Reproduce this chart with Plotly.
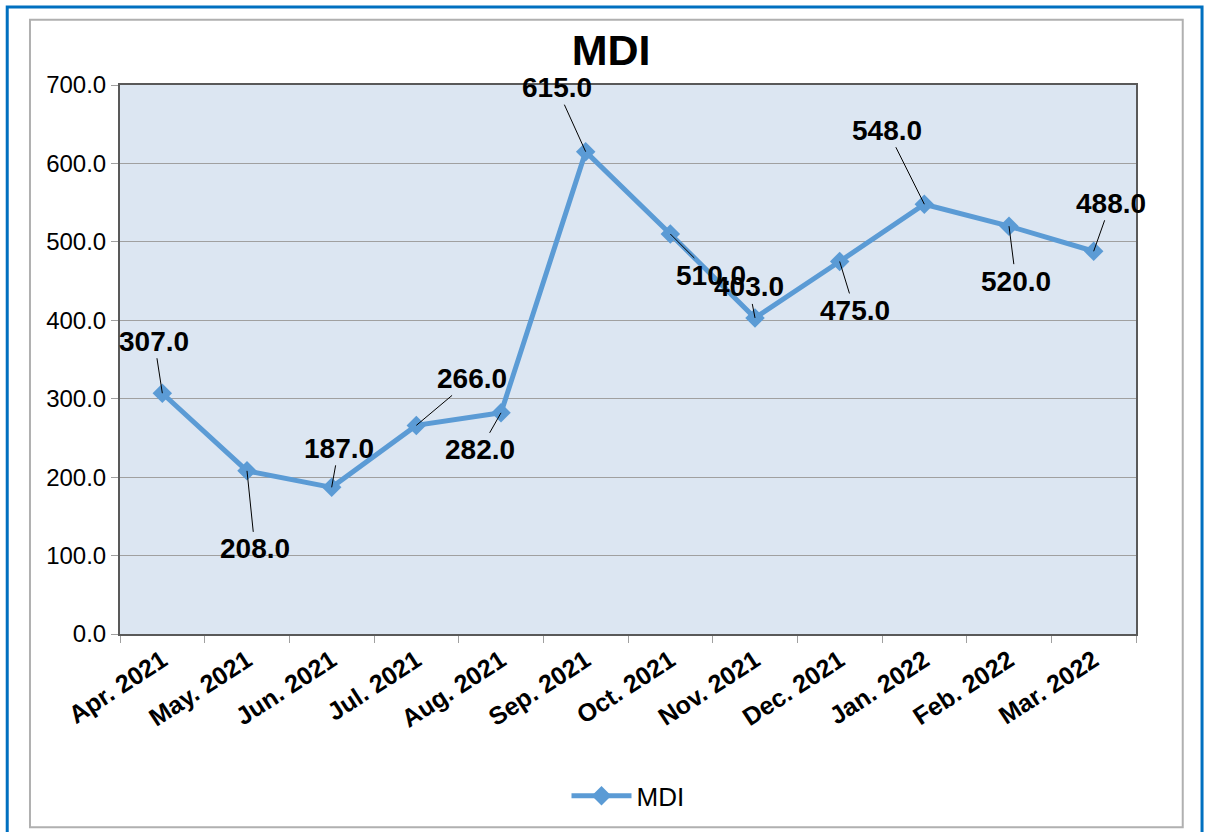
import plotly.graph_objects as go

months = ["Apr. 2021", "May. 2021", "Jun. 2021", "Jul. 2021", "Aug. 2021", "Sep. 2021",
          "Oct. 2021", "Nov. 2021", "Dec. 2021", "Jan. 2022", "Feb. 2022", "Mar. 2022"]
mdi = [307.0, 208.0, 187.0, 266.0, 282.0, 615.0, 510.0, 403.0, 475.0, 548.0, 520.0, 488.0]
# label offsets (pixels) from each point: (ax, ay)
label_offsets = [(-8, -52), (8, 78), (7, -39), (56, -47), (-21, 37), (-29, -64),
                 (41, 41), (-6, -31), (15, 49), (-37, -74), (7, 55), (17, -48)]
tick_vals = [0, 100, 200, 300, 400, 500, 600, 700]

FONT = "Liberation Sans, Arial, sans-serif"
LINE_COLOR = "#5B9BD5"

fig = go.Figure()
fig.add_trace(go.Scatter(
    x=months, y=mdi, mode="lines+markers", name="MDI",
    line=dict(color=LINE_COLOR, width=5),
    marker=dict(symbol="diamond", size=15, color=LINE_COLOR),
))

for m, v, (ax, ay) in zip(months, mdi, label_offsets):
    fig.add_annotation(
        x=m, y=v, text=f"<b>{v:.1f}</b>", showarrow=True, arrowhead=0,
        arrowwidth=1, arrowcolor="black", ax=ax, ay=ay, standoff=0,
        font=dict(family=FONT, size=28, color="black"),
    )

fig.update_layout(
    width=1210, height=832,
    margin=dict(l=120, r=74, t=85, b=192),
    paper_bgcolor="white",
    plot_bgcolor="#DCE6F2",
    title=dict(text="<b>MDI</b>", x=0.505, xanchor="center", y=0.94, yanchor="middle",
               font=dict(family=FONT, size=43, color="black")),
    showlegend=True,
    legend=dict(orientation="h", x=0.5, xanchor="center", y=-0.295, yanchor="middle",
                itemwidth=60,
                font=dict(family=FONT, size=26, color="black"), bgcolor="rgba(0,0,0,0)"),
    font=dict(family=FONT, color="black"),
)
fig.update_xaxes(
    type="category", range=[-0.5, len(months) - 0.5], autorange=False,
    tickangle=-33, tickfont=dict(family=FONT, size=25, color="black", weight="bold"),
    showline=True, linecolor="#595959", linewidth=2, mirror=True,
    ticks="outside", tickson="boundaries", ticklen=7, tickcolor="#A0A0A0",
    showgrid=False,
)
fig.update_yaxes(
    range=[0, 700], tickvals=tick_vals, tickformat=".1f",
    tickfont=dict(family=FONT, size=24, color="black"),
    showline=True, linecolor="#595959", linewidth=2, mirror=True,
    ticks="outside", ticklen=7, tickcolor="#A0A0A0",
    showgrid=True, gridcolor="#A0A0A0", gridwidth=1, zeroline=False,
)

# frames
fig.add_shape(type="rect", xref="paper", yref="paper", x0=-0.0886, x1=1.046, y0=-0.352, y1=1.119,
              line=dict(color="#B0B0B0", width=2), fillcolor="rgba(0,0,0,0)", layer="below")
fig.add_shape(type="rect", xref="paper", yref="paper", x0=-0.111, x1=1.065, y0=-0.40, y1=1.142,
              line=dict(color="#0070C0", width=3), fillcolor="rgba(0,0,0,0)", layer="below")

fig.write_html("out.html", config={"displayModeBar": False},
               post_script="document.body.style.margin='0';")
